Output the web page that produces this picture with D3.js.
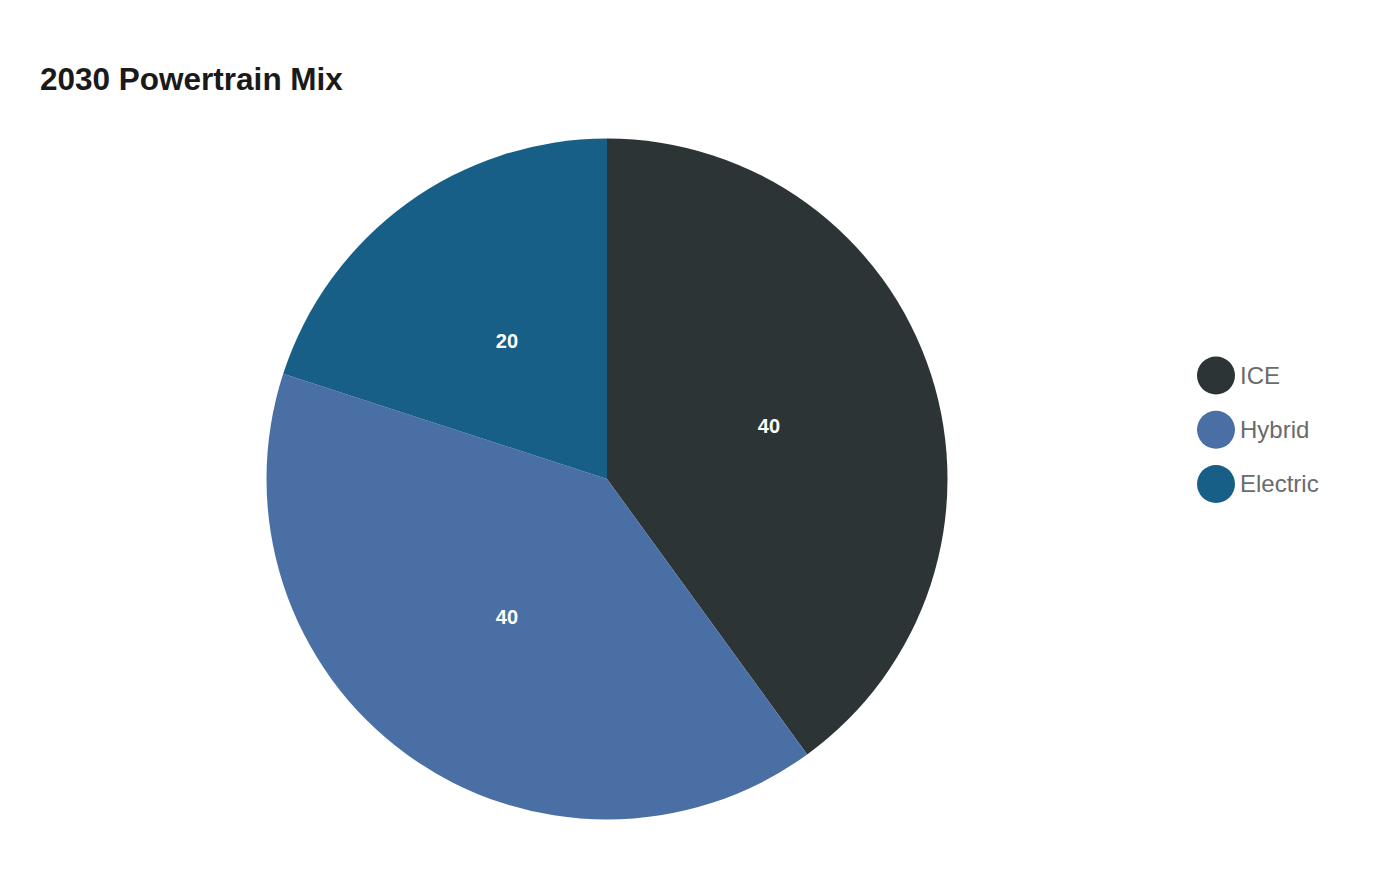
<!DOCTYPE html>
<html>
<head>
<meta charset="utf-8">
<script src="https://cdn.jsdelivr.net/npm/d3@7"></script>
<style>
  html, body { margin: 0; padding: 0; background: #ffffff; }
  svg { display: block; font-family: "Liberation Sans", Arial, sans-serif; }
</style>
</head>
<body>
<svg id="chart" width="1400" height="880"></svg>
<script>
const categories = ["ICE", "Hybrid", "Electric"];
const values = [40, 40, 20];
const colors = ["#2d3436", "#4a6fa5", "#175f87"];
const title = "2030 Powertrain Mix";

const svg = d3.select("#chart");
const cx = 607, cy = 479, radius = 340.5;

svg.append("text")
  .attr("x", 40).attr("y", 90)
  .attr("font-size", 31.5).attr("font-weight", "bold")
  .attr("fill", "#1a1a1a")
  .text(title);

const data = categories.map((c, i) => ({ name: c, value: values[i], color: colors[i] }));
const pie = d3.pie().value(d => d.value).sort(null);
const arc = d3.arc().innerRadius(0).outerRadius(radius);

const g = svg.append("g").attr("transform", `translate(${cx},${cy})`);
const arcs = pie(data);

g.selectAll("path").data(arcs).join("path")
  .attr("d", arc)
  .attr("fill", d => d.data.color);

g.selectAll("text.lbl").data(arcs).join("text")
  .attr("class", "lbl")
  .attr("transform", d => `translate(${arc.centroid(d)})`)
  .attr("text-anchor", "middle")
  .attr("dominant-baseline", "central")
  .attr("font-size", 20).attr("font-weight", "bold")
  .attr("fill", "#ffffff")
  .text(d => d.data.value);

const legendY = d3.scalePoint().domain(categories).range([375.5, 484]);
const legend = svg.append("g");
const items = legend.selectAll("g").data(data).join("g")
  .attr("transform", d => `translate(1216,${legendY(d.name)})`);
items.append("circle").attr("r", 19).attr("fill", d => d.color);
items.append("text")
  .attr("x", 24).attr("dy", "0.35em")
  .attr("font-size", 24).attr("fill", "#6b6b6b")
  .text(d => d.name);
</script>
</body>
</html>
